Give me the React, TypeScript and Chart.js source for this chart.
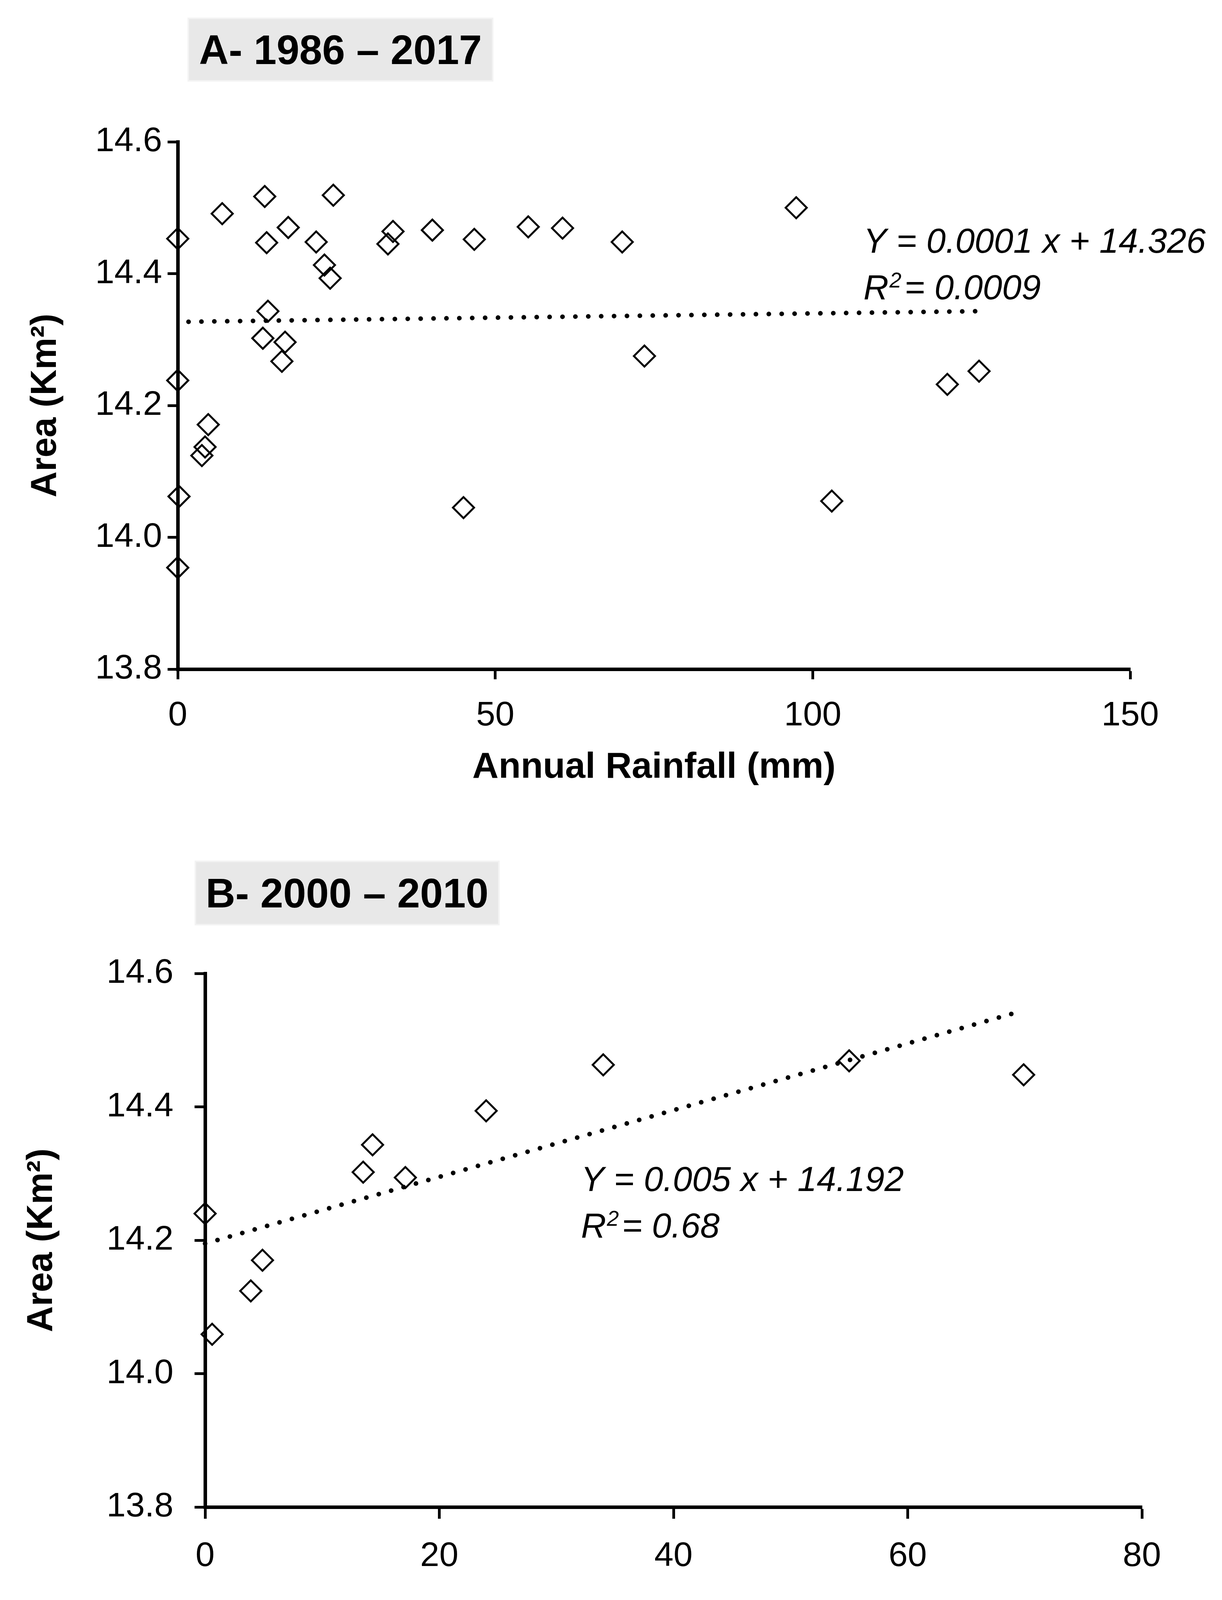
import React, { useEffect, useRef } from 'react';
import { Chart, registerables } from 'chart.js';

Chart.register(...registerables);

const FONT = '"Liberation Sans", Arial, Helvetica, sans-serif';

// ---------- Panel A: 1986 – 2017 ----------
const titleA = 'A- 1986 – 2017';
const rainfallA = [0, 0, 0.2, 0, 3.8, 4.3, 4.8, 7.0, 13.4, 13.7, 14.0, 14.2, 16.4, 16.9, 17.4, 21.8, 23.1, 24.0, 24.5, 33.1, 33.9, 40.1, 45.0, 46.7, 55.2, 60.6, 70.0, 73.5, 97.4, 103.0, 121.2, 126.2];
const areaA = [14.453, 14.238, 14.062, 13.954, 14.124, 14.137, 14.171, 14.491, 14.302, 14.517, 14.447, 14.343, 14.267, 14.296, 14.470, 14.448, 14.413, 14.393, 14.519, 14.445, 14.464, 14.466, 14.045, 14.452, 14.471, 14.469, 14.448, 14.275, 14.500, 14.055, 14.232, 14.252];
const trendRainfallA = [1.7, 126.0];
const trendAreaA = [14.327, 14.343];
const xTicksA = [0, 50, 100, 150];
const equationA = 'Y = 0.0001 x + 14.326';
const r2A = '0.0009';
const equationAnchorA = [108.0, 14.432, 14.361]; // x, y of line 1, y of line 2 (data units)

// ---------- Panel B: 2000 – 2010 ----------
const titleB = 'B- 2000 – 2010';
const rainfallB = [0, 0.6, 3.9, 4.9, 13.5, 14.3, 17.1, 24.0, 34.0, 55.0, 69.9];
const areaB = [14.240, 14.059, 14.124, 14.170, 14.302, 14.343, 14.294, 14.394, 14.463, 14.469, 14.448];
const trendRainfallB = [0, 69.0];
const trendAreaB = [14.195, 14.540];
const xTicksB = [0, 20, 40, 60, 80];
const equationB = 'Y = 0.005 x + 14.192';
const r2B = '0.68';
const equationAnchorB = [32.1, 14.274, 14.204];

// ---------- shared ----------
const yTicks = [13.8, 14.0, 14.2, 14.4, 14.6];
const xAxisTitle = 'Annual Rainfall (mm)';
const yAxisTitle = 'Area (Km²)';

const eqPlugin = {
  id: 'eqText',
  afterDatasetsDraw(chart: any, _args: any, opts: any) {
    const { ctx, scales } = chart;
    const x = scales.x;
    const y = scales.y;
    const px = x.getPixelForValue(opts.anchor[0]);
    const py1 = y.getPixelForValue(opts.anchor[1]);
    const py2 = y.getPixelForValue(opts.anchor[2]);
    const size = opts.size;
    ctx.save();
    ctx.fillStyle = '#000';
    ctx.textAlign = 'left';
    ctx.textBaseline = 'alphabetic';
    ctx.font = `italic ${size}px ${FONT}`;
    ctx.fillText(opts.eq, px, py1);
    ctx.fillText('R', px, py2);
    let w = ctx.measureText('R').width;
    const sup = Math.round(size * 0.62);
    ctx.font = `italic ${sup}px ${FONT}`;
    ctx.fillText('2', px + w + 2, py2 - size * 0.34);
    w += ctx.measureText('2').width + 2;
    ctx.font = `italic ${size}px ${FONT}`;
    ctx.fillText('= ' + opts.r2, px + w + 8, py2);
    ctx.restore();
  },
};

type Spec = {
  xs: number[];
  ys: number[];
  tx: number[];
  ty: number[];
  xTicks: number[];
  eq: string;
  r2: string;
  anchor: number[];
  canvasTop: number;
  canvasH: number;
  padTop: number;
  padRight: number;
  yWidth: number;
  xHeight: number;
  yTickPad: number;
  yTickLen: number;
  yTitlePad: number;
  xTickLen: number;
  xTickPad: number;
  xTitlePad: number;
};

const W = 3128;

function Panel({ spec }: { spec: Spec }) {
  const ref = useRef<HTMLCanvasElement>(null);
  useEffect(() => {
    const s = spec;
    const chart = new Chart(ref.current as HTMLCanvasElement, {
      type: 'scatter',
      data: {
        datasets: [
          {
            data: s.tx.map((x, i) => ({ x, y: s.ty[i] })),
            showLine: true,
            borderColor: '#000',
            borderWidth: 12,
            borderDash: [0.01, 33],
            borderCapStyle: 'round',
            pointRadius: 0,
            pointHoverRadius: 0,
            fill: false,
            clip: false,
          } as any,
          {
            data: s.xs.map((x, i) => ({ x, y: s.ys[i] })),
            pointStyle: 'rectRot',
            pointRadius: 27,
            pointHoverRadius: 27,
            pointBorderWidth: 5,
            pointBorderColor: '#000',
            pointBackgroundColor: 'rgba(0,0,0,0)',
            borderColor: '#000',
            backgroundColor: 'rgba(0,0,0,0)',
            clip: false,
          } as any,
        ],
      },
      options: {
        animation: false,
        responsive: false,
        devicePixelRatio: 1,
        events: [],
        layout: { padding: { top: s.padTop, right: s.padRight, left: 0, bottom: 0 } },
        plugins: {
          legend: { display: false },
          tooltip: { enabled: false },
          eqText: { eq: s.eq, r2: s.r2, anchor: s.anchor, size: 89 },
        } as any,
        scales: {
          x: {
            type: 'linear',
            position: 'bottom',
            min: s.xTicks[0],
            max: s.xTicks[s.xTicks.length - 1],
            afterBuildTicks: (sc: any) => {
              sc.ticks = s.xTicks.map((v) => ({ value: v }));
            },
            afterFit: (sc: any) => {
              sc.height = s.xHeight;
              sc.paddingLeft = 0;
              sc.paddingRight = 0;
            },
            ticks: {
              font: { size: 88, family: FONT },
              color: '#000',
              padding: s.xTickPad,
              maxRotation: 0,
              autoSkip: false,
              callback: (v: any) => String(v),
            },
            grid: {
              display: true,
              drawOnChartArea: false,
              drawTicks: true,
              tickLength: s.xTickLen,
              tickWidth: 7,
              tickColor: '#000',
            },
            border: { display: true, color: '#000', width: 9 },
            title: {
              display: true,
              text: xAxisTitle,
              color: '#000',
              font: { size: 93, weight: 'bold', family: FONT },
              padding: { top: 0, bottom: s.xTitlePad },
            },
          } as any,
          y: {
            type: 'linear',
            position: 'left',
            min: yTicks[0],
            max: yTicks[yTicks.length - 1],
            afterBuildTicks: (sc: any) => {
              sc.ticks = yTicks.map((v) => ({ value: v }));
            },
            afterFit: (sc: any) => {
              sc.width = s.yWidth;
              sc.paddingTop = 0;
              sc.paddingBottom = 0;
            },
            ticks: {
              font: { size: 88, family: FONT },
              color: '#000',
              padding: s.yTickPad,
              autoSkip: false,
              callback: (v: any) => Number(v).toFixed(1),
            },
            grid: {
              display: true,
              drawOnChartArea: false,
              drawTicks: true,
              tickLength: s.yTickLen,
              tickWidth: 7,
              tickColor: '#000',
            },
            border: { display: true, color: '#000', width: 9 },
            title: {
              display: true,
              text: yAxisTitle,
              color: '#000',
              font: { size: 92, weight: 'bold', family: FONT },
              padding: { top: s.yTitlePad, bottom: 0 },
            },
          } as any,
        },
      },
      plugins: [eqPlugin as any],
    });
    return () => chart.destroy();
  }, []);
  return (
    <canvas
      ref={ref}
      width={W}
      height={spec.canvasH}
      style={{ position: 'absolute', left: 0, top: spec.canvasTop, width: W, height: spec.canvasH, display: 'block' }}
    />
  );
}

function TitleBox({ text, left, top, width, height }: { text: string; left: number; top: number; width: number; height: number }) {
  return (
    <div
      style={{
        position: 'absolute',
        left,
        top,
        width,
        height,
        boxSizing: 'border-box',
        background: '#e8e8e8',
        border: '4px solid #f3f3f3',
        display: 'flex',
        alignItems: 'center',
        justifyContent: 'center',
        fontFamily: FONT,
        fontWeight: 700,
        fontSize: 105,
        lineHeight: 1,
        color: '#000',
        whiteSpace: 'nowrap',
      }}
    >
      {text}
    </div>
  );
}

const specA: Spec = {
  xs: rainfallA,
  ys: areaA,
  tx: trendRainfallA,
  ty: trendAreaA,
  xTicks: xTicksA,
  eq: equationA,
  r2: r2A,
  anchor: equationAnchorA,
  canvasTop: 0,
  canvasH: 2090,
  padTop: 363,
  padRight: 235,
  yWidth: 455,
  xHeight: 377,
  yTickPad: 14,
  yTickLen: 26,
  yTitlePad: 62,
  xTickLen: 26,
  xTickPad: 41,
  xTitlePad: 69,
};

const specB: Spec = {
  xs: rainfallB,
  ys: areaB,
  tx: trendRainfallB,
  ty: trendAreaB,
  xTicks: xTicksB,
  eq: equationB,
  r2: r2B,
  anchor: equationAnchorB,
  canvasTop: 2090,
  canvasH: 2187,
  padTop: 402,
  padRight: 205,
  yWidth: 525,
  xHeight: 419,
  yTickPad: 54,
  yTickLen: 27,
  yTitlePad: 52,
  xTickLen: 30,
  xTickPad: 44,
  xTitlePad: 18,
};

export default function App() {
  return (
    <div style={{ position: 'absolute', left: 0, top: 0, width: W, height: 4277, background: '#fff', overflow: 'hidden' }}>
      <Panel spec={specA} />
      <Panel spec={specB} />
      <TitleBox text={titleA} left={480} top={45} width={783} height={164} />
      <TitleBox text={titleB} left={498} top={2203} width={781} height={166} />
    </div>
  );
}
